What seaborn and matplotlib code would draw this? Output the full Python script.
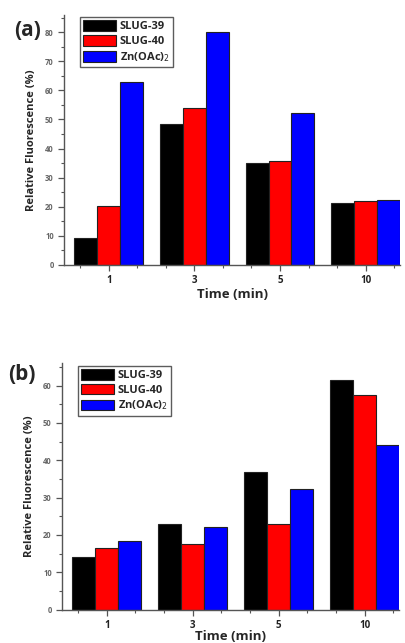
import numpy as np
import pandas as pd
import matplotlib
matplotlib.use("Agg")
import matplotlib.pyplot as plt
import seaborn as sns
from matplotlib.ticker import MultipleLocator, FixedLocator

# Data
times = ["1", "3", "5", "10"]
series = ["SLUG-39", "SLUG-40", "Zn(OAc)$_2$"]
colors = ["#000000", "#ff0000", "#0000ff"]

a_slug39 = [9.4, 48.6, 35.1, 21.3]
a_slug40 = [20.1, 53.8, 35.6, 22.1]
a_zn = [63.0, 80.1, 52.4, 22.2]

b_slug39 = [14.1, 23.0, 37.0, 61.5]
b_slug40 = [16.6, 17.7, 23.0, 57.6]
b_zn = [18.4, 22.2, 32.3, 44.2]


def make_df(v1, v2, v3):
    rows = []
    for name, vals in zip(series, [v1, v2, v3]):
        for t, v in zip(times, vals):
            rows.append({"time": t, "series": name, "value": v})
    return pd.DataFrame(rows)


sns.set_style("ticks")
plt.rcParams['font.family'] = ['Open Sans', 'DejaVu Sans']

fig = plt.figure(figsize=(4.06, 6.43), dpi=100)
ax_a = fig.add_axes([0.158, 0.588, 0.827, 0.389])
ax_b = fig.add_axes([0.153, 0.052, 0.830, 0.383])


def draw_panel(ax, df, ymax, label, lab_xy, xpad):
    sns.barplot(data=df, x="time", y="value", hue="series", order=times,
                hue_order=series, palette=colors, width=0.8, ax=ax,
                edgecolor="#222222", linewidth=0.8, saturation=1, errorbar=None)
    ax.set_xlim(-0.52, 3.40)
    ax.set_ylim(0, ymax)
    for s in ["top", "right"]:
        ax.spines[s].set_visible(False)
    for s in ["left", "bottom"]:
        ax.spines[s].set_color("#555555")
        ax.spines[s].set_linewidth(1.0)
    ax.yaxis.set_major_locator(MultipleLocator(10))
    ax.yaxis.set_minor_locator(MultipleLocator(5))
    ax.xaxis.set_minor_locator(FixedLocator([-1/3, 1/3, 2/3, 4/3, 5/3, 7/3, 8/3, 10/3]))
    ax.tick_params(axis="both", which="major", direction="out", length=4, width=0.9, color="#555555")
    ax.tick_params(axis="both", which="minor", direction="out", length=2.5, width=0.8, color="#555555")
    ax.tick_params(axis="y", labelsize=5.5, labelcolor="#666666")
    ax.tick_params(axis="x", labelsize=7, labelcolor="#222222")
    for t in ax.get_yticklabels() + ax.get_xticklabels():
        t.set_fontweight("bold")
    ax.set_xlabel("Time (min)", fontsize=9.5, fontweight="bold", labelpad=xpad)
    ax.set_ylabel("Relative Fluorescence (%)", fontsize=8, fontweight="bold", labelpad=6)
    leg = ax.legend(loc="upper left", bbox_to_anchor=(0.04, 1.0), frameon=True,
                    fancybox=False, edgecolor="#333333", prop={"weight": "bold", "size": 8},
                    handlelength=3.0, handleheight=1.1, handletextpad=0.3,
                    borderpad=0.3, labelspacing=0.25, borderaxespad=0.2)
    leg.get_frame().set_linewidth(1.0)
    fig.text(lab_xy[0], lab_xy[1], label, fontsize=15, fontweight="bold", ha="left", va="center")


draw_panel(ax_a, make_df(a_slug39, a_slug40, a_zn), 86, "(a)", (0.035, 0.952), 1)
draw_panel(ax_b, make_df(b_slug39, b_slug40, b_zn), 66, "(b)", (0.02, 0.417), -1)

fig.savefig("out.png", dpi=100)
